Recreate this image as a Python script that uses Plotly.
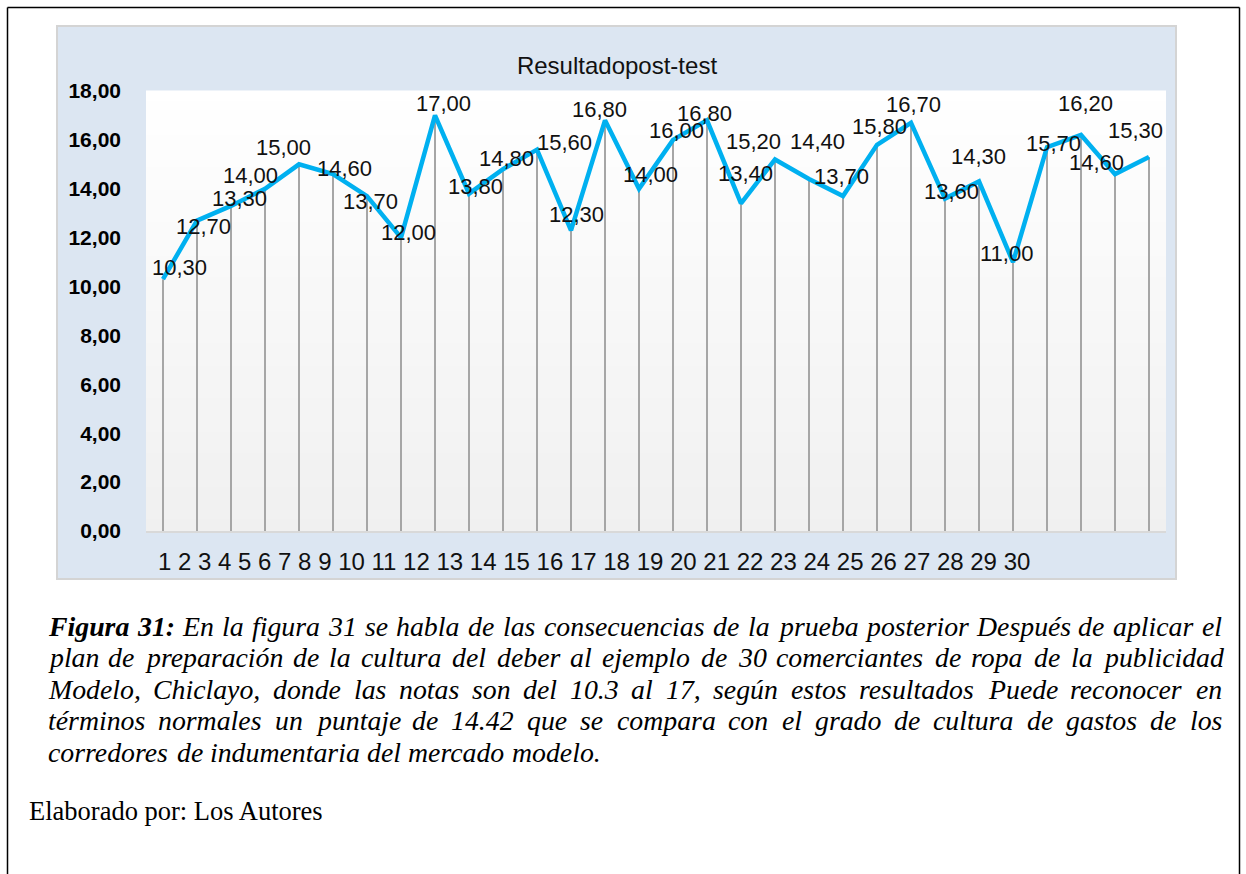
import plotly.graph_objects as go

# ---------------- data ----------------
categories = ["1", "2", "3", "4", "5", "6", "7", "8", "9", "10",
              "11", "12", "13", "14", "15", "16", "17", "18", "19", "20",
              "21", "22", "23", "24", "25", "26", "27", "28", "29", "30"]
values = [10.3, 12.7, 13.3, 14.0, 15.0, 14.6, 13.7, 12.0, 17.0, 13.8,
          14.8, 15.6, 12.3, 16.8, 14.0, 16.0, 16.8, 13.4, 15.2, 14.4,
          13.7, 15.8, 16.7, 13.6, 14.3, 11.0, 15.7, 16.2, 14.6, 15.3]
y_ticks = [0, 2, 4, 6, 8, 10, 12, 14, 16, 18]
title_text = "Resultadopost-test"

caption_lines = [
    "Figura 31: En la figura 31 se habla de las consecuencias de la prueba posterior Después de aplicar el",
    "plan de preparación de la cultura del deber al ejemplo de 30 comerciantes de ropa de la publicidad",
    "Modelo, Chiclayo, donde las notas son del 10.3 al 17, según estos resultados Puede reconocer en",
    "términos normales un puntaje de 14.42 que se compara con el grado de cultura de gastos de los",
    "corredores de indumentaria del mercado modelo.",
]
bold_words = ["Figura", "31:"]
source_text = "Elaborado por: Los Autores"

# ---------------- styling / placement ----------------
W, H = 1246, 874
def px(x): return x / W
def py(y): return 1 - y / H

# per-label pixel offsets (dx right, dy up) mimicking the original label placement
label_dx = [16, 6, 8, -15, -16, 11, 3, 7, 8, 6, 3, 27, 5, -6, 11,
            3, -3, 4, -22, 8, -2, 2, 2, 6, -1, -7, 6, 4, -19, -14]
label_dy = [12, -6, 7, 13, 17, 6, -5, 5, 12, 7, 11, 7, 16, 11, 14,
            9, 7, 30, 18, 38, 20, 18, 18, 7, 25, 9, 4, 32, 12, 27]

LINE_BLUE = "#00B0F0"
DROP_GREY = "#A6A6A6"

fig = go.Figure()

# drop lines
dx_, dy_ = [], []
for c, v in zip(categories, values):
    dx_ += [c, c, None]
    dy_ += [0, v, None]
fig.add_trace(go.Scatter(x=dx_, y=dy_, mode="lines",
                         line=dict(color=DROP_GREY, width=2),
                         hoverinfo="skip", showlegend=False))
# main line
fig.add_trace(go.Scatter(x=categories, y=values, mode="lines",
                         line=dict(color=LINE_BLUE, width=4.5),
                         showlegend=False))

shapes = []
# chart area box
shapes.append(dict(type="rect", xref="paper", yref="paper",
                   x0=px(57), x1=px(1176), y0=py(579), y1=py(26),
                   fillcolor="#DCE6F2", line=dict(color="#D4D4D4", width=2),
                   layer="below"))
# plot-area gradient (white -> light grey)
nb = 40
for k in range(nb):
    t = (k + 0.5) / nb
    g = int(round(255 - t * (255 - 240)))
    shapes.append(dict(type="rect", xref="x domain", yref="y domain",
                       x0=0, x1=1, y0=1 - (k + 1) / nb, y1=1 - k / nb + 0.001,
                       fillcolor=f"rgb({g},{g},{g})", line=dict(width=0),
                       layer="below"))
# page frame (left, top, right)
frame = dict(color="black", width=1.5)
shapes.append(dict(type="line", xref="paper", yref="paper",
                   x0=px(7.5), x1=px(7.5), y0=py(7.5), y1=py(880), line=frame))
shapes.append(dict(type="line", xref="paper", yref="paper",
                   x0=px(7.5), x1=px(1239.5), y0=py(7.5), y1=py(7.5), line=frame))
shapes.append(dict(type="line", xref="paper", yref="paper",
                   x0=px(1239.5), x1=px(1239.5), y0=py(7.5), y1=py(880), line=frame))

annotations = []
# data labels (x given as category index)
for i, (v, ddx, ddy) in enumerate(zip(values, label_dx, label_dy)):
    annotations.append(dict(x=i, y=v, xref="x", yref="y",
                            text=f"{v:.2f}".replace(".", ","),
                            showarrow=False, xshift=ddx, yshift=ddy,
                            font=dict(family="Liberation Sans, Arial", size=22, color="#111111")))
# category labels (rendered as a packed run of text, like the original)
annotations.append(dict(x=px(156), y=py(561), xref="paper", yref="paper",
                        xanchor="left", yanchor="middle", showarrow=False,
                        text=" ".join(categories),
                        font=dict(family="Liberation Sans, Arial", size=24, color="#111111")))

# caption with justified lines
TI = {' ': 250, ',': 250, '.': 250, ':': 333,
      'A': 611, 'C': 667, 'D': 722, 'E': 611, 'F': 611, 'M': 833, 'P': 611,
      'a': 500, 'b': 500, 'c': 444, 'd': 500, 'e': 444, 'f': 278, 'g': 500, 'h': 500,
      'i': 278, 'j': 278, 'k': 444, 'l': 278, 'm': 722, 'n': 500, 'o': 500, 'p': 500,
      'q': 500, 'r': 389, 's': 389, 't': 278, 'u': 500, 'v': 444, 'x': 444, 'y': 444,
      'z': 389, 'é': 444, 'ó': 500, 'á': 500, 'ú': 500, 'í': 278}
for d in "0123456789":
    TI[d] = 500
TBI = dict(TI)
TBI.update({'F': 667, 'u': 556})

CAP_SIZE = 27.8
LEFT, RIGHT = 47, 1221
line_y = [626, 657, 689, 720, 752]

def wwidth(word, bold):
    tab = TBI if bold else TI
    return sum(tab.get(ch, 500) for ch in word) * CAP_SIZE / 1000.0

for li, (line, yy) in enumerate(zip(caption_lines, line_y)):
    words = line.split(" ")
    is_bold = [(li == 0 and wi < 2 and w in bold_words) for wi, w in enumerate(words)]
    widths = [wwidth(w, b) for w, b in zip(words, is_bold)]
    last = li == len(caption_lines) - 1
    if last:
        gap = TI[' '] * CAP_SIZE / 1000.0
    else:
        gap = (RIGHT - LEFT - sum(widths)) / (len(words) - 1)
    xcur = LEFT
    for w, b, wd in zip(words, is_bold, widths):
        annotations.append(dict(x=px(xcur - 1), y=py(yy), xref="paper", yref="paper",
                                xanchor="left", yanchor="middle", showarrow=False,
                                text=w,
                                font=dict(family="Liberation Serif, Times New Roman",
                                          size=CAP_SIZE, color="black", style="italic",
                                          weight="bold" if b else "normal")))
        xcur += wd + gap

annotations.append(dict(x=px(27), y=py(811), xref="paper", yref="paper",
                        xanchor="left", yanchor="middle", showarrow=False,
                        text=source_text,
                        font=dict(family="Liberation Serif, Times New Roman",
                                  size=26.5, color="black")))

fig.update_layout(
    width=W, height=H, autosize=False,
    margin=dict(l=0, r=0, t=0, b=0, pad=0, autoexpand=False),
    paper_bgcolor="white",
    plot_bgcolor="rgba(0,0,0,0)",
    separators=",.",
    showlegend=False,
    title=dict(text=title_text, x=px(617), y=py(66), xanchor="center", yanchor="middle",
               automargin=False,
               font=dict(family="Liberation Sans, Arial", size=24, color="#111111")),
    xaxis=dict(domain=[px(146), px(1166)], type="category",
               categoryorder="array", categoryarray=categories,
               range=[-0.5, len(categories) - 0.5], automargin=False,
               showgrid=False, zeroline=False, showticklabels=False, ticks="",
               showline=True, linecolor="#D9D9D9", linewidth=2),
    yaxis=dict(domain=[py(531), py(91)], range=[0, 18], automargin=False,
               tickvals=y_ticks, tickformat=".2f",
               showgrid=False, zeroline=False, showline=False, ticks="",
               ticklabelstandoff=24,
               tickfont=dict(family="Liberation Sans, Arial", size=21, color="black", weight="bold")),
    shapes=shapes,
    annotations=annotations,
)

fig.write_html("out.html",
               config={"displayModeBar": False},
               post_script="document.body.style.margin='0';document.body.style.overflow='hidden';")
